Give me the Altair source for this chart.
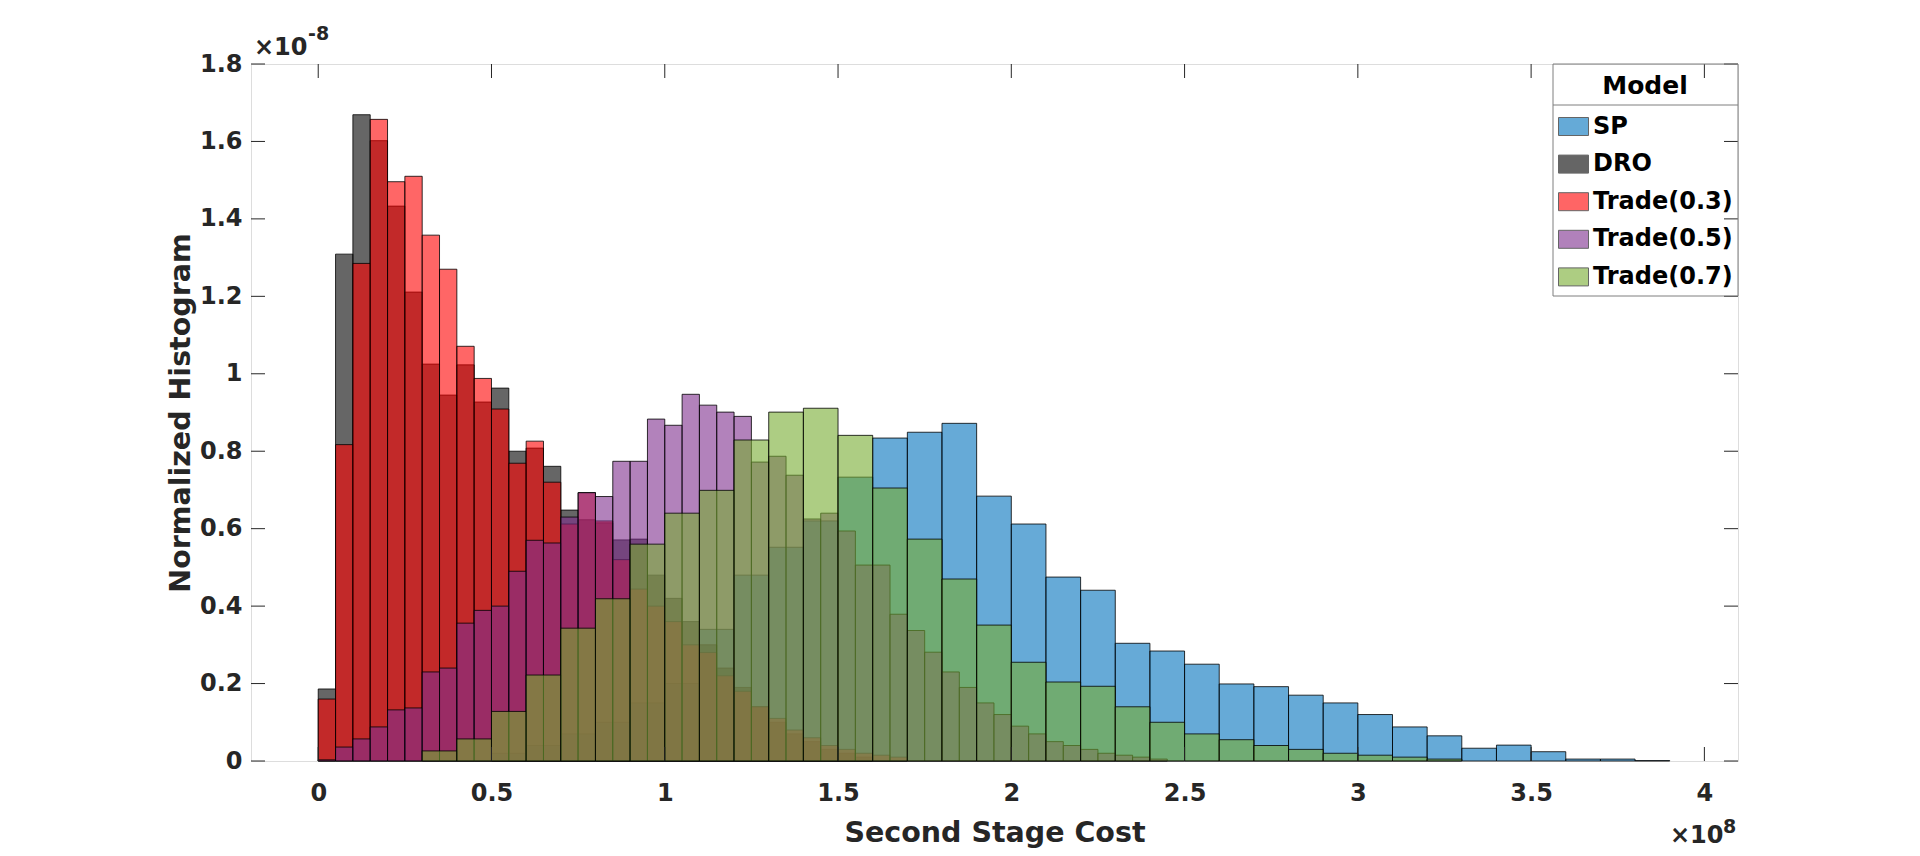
import altair as alt
import pandas as pd

FONT = "DejaVu Sans"
TXT = "#262626"

series_names = ["SP", "DRO", "Trade(0.3)", "Trade(0.5)", "Trade(0.7)"]
series_colors = ["#0072BD", "#000000", "#FF0000", "#7E2F8E", "#77AC30"]
bin_widths = [0.1, 0.05, 0.05, 0.05, 0.1]      # x 1e8
first_edges = [0.5, 0.0, 0.0, 0.0, 0.3]        # x 1e8

# normalized histogram heights (x 1e-8)
sp_values = [0.02, 0.04, 0.07, 0.10, 0.15, 0.20, 0.34, 0.48, 0.552, 0.62,
             0.733, 0.834, 0.849, 0.872, 0.684, 0.612, 0.475, 0.441, 0.304, 0.284,
             0.25, 0.199, 0.192, 0.17, 0.15, 0.12, 0.088, 0.065, 0.033, 0.041,
             0.024, 0.005, 0.005, 0.001]
dro_values = [0.186, 1.309, 1.669, 1.602, 1.433, 1.211, 1.025, 0.945, 1.023, 0.927,
              0.963, 0.80, 0.808, 0.761, 0.648, 0.623, 0.615, 0.571, 0.573, 0.48,
              0.42, 0.36, 0.30, 0.24, 0.19, 0.14, 0.10, 0.07, 0.05, 0.03,
              0.02, 0.01]
trade03_values = [0.16, 0.817, 1.285, 1.657, 1.496, 1.51, 1.358, 1.27, 1.071, 0.988,
                  0.909, 0.769, 0.826, 0.72, 0.612, 0.693, 0.62, 0.52, 0.444, 0.40,
                  0.36, 0.30, 0.28, 0.22, 0.18, 0.14, 0.11, 0.08, 0.06, 0.04,
                  0.03, 0.02, 0.015, 0.01]
trade05_values = [0.003, 0.036, 0.057, 0.088, 0.132, 0.137, 0.23, 0.24, 0.356, 0.389,
                  0.40, 0.49, 0.57, 0.563, 0.63, 0.693, 0.683, 0.774, 0.774, 0.883,
                  0.867, 0.947, 0.919, 0.901, 0.89, 0.772, 0.787, 0.738, 0.625, 0.64,
                  0.594, 0.506, 0.506, 0.379, 0.337, 0.281, 0.23, 0.19, 0.15, 0.12,
                  0.09, 0.07, 0.05, 0.04, 0.03, 0.02, 0.015, 0.01, 0.005]
trade07_values = [0.026, 0.057, 0.128, 0.222, 0.343, 0.419, 0.56, 0.64, 0.699, 0.829,
                  0.901, 0.911, 0.841, 0.705, 0.573, 0.47, 0.351, 0.255, 0.204, 0.193,
                  0.14, 0.10, 0.07, 0.055, 0.04, 0.03, 0.02, 0.015, 0.01, 0.005]

x_ticks = [0, 0.5, 1, 1.5, 2, 2.5, 3, 3.5, 4]
y_ticks = [0, 0.2, 0.4, 0.6, 0.8, 1, 1.2, 1.4, 1.6, 1.8]
x_domain = [-0.194, 4.097]
y_domain = [0, 1.8]

all_values = [sp_values, dro_values, trade03_values, trade05_values, trade07_values]
rows = []
for k, (name, vals) in enumerate(zip(series_names, all_values)):
    for i, v in enumerate(vals):
        x0 = round(first_edges[k] + i * bin_widths[k], 4)
        rows.append({"series": name, "order": k, "x0": x0,
                     "x1": round(x0 + bin_widths[k], 4), "v": v, "base": 0.0})
df = pd.DataFrame(rows)

W, H = 1487, 697
TL = 14
LX, LW, LH = 1302, W - 1302, 232

xs = alt.Scale(domain=x_domain, nice=False, zero=False)
ys = alt.Scale(domain=y_domain, nice=False, zero=False)

x_axis = alt.Axis(
    values=x_ticks, format="~g", title="Second Stage Cost", grid=False,
    ticks=False, tickSize=0, domain=False, labelFlush=False, labelOverlap=False,
    labelFont=FONT, labelFontSize=24, labelFontWeight="bold", labelColor=TXT,
    labelPadding=20, titleFont=FONT, titleFontSize=28.5, titleFontWeight="bold",
    titleColor=TXT, titleY=80.4, titleBaseline="alphabetic")
y_axis = alt.Axis(
    values=y_ticks, format="~g", title="Normalized Histogram", grid=False,
    ticks=False, tickSize=0, domain=False, labelFlush=False, labelOverlap=False,
    labelFont=FONT, labelFontSize=24, labelFontWeight="bold", labelColor=TXT,
    labelPadding=9, titleFont=FONT, titleFontSize=28.5, titleFontWeight="bold",
    titleColor=TXT, titleX=-61.6, titleY=H / 2, titleAngle=270,
    titleAlign="center", titleBaseline="alphabetic")

bars = alt.Chart(df).mark_rect(
    stroke="black", strokeWidth=0.8, fillOpacity=0.6, strokeOpacity=1
).encode(
    x=alt.X("x0:Q", scale=xs, axis=x_axis),
    x2="x1:Q",
    y=alt.Y("v:Q", scale=ys, axis=y_axis),
    y2="base:Q",
    color=alt.Color("series:N", scale=alt.Scale(domain=series_names, range=series_colors),
                    legend=alt.Legend(
                        title="Model", orient="none", legendX=LX, legendY=5,
                        direction="vertical", titleFont=FONT, titleFontSize=25,
                        titleFontWeight="bold", titleColor="black", titleAnchor="middle",
                        titleAlign="center", titlePadding=12, labelFont=FONT,
                        labelFontSize=24, labelFontWeight="bold", labelColor="black",
                        labelOffset=4, labelLimit=0, symbolType="M-1,-0.6H1V0.6H-1Z",
                        symbolSize=900, symbolStrokeColor="black", symbolStrokeWidth=1,
                        symbolOpacity=0.6, padding=5, rowPadding=9.6)),
)

xt = pd.DataFrame({"x0": x_ticks})
yt = pd.DataFrame({"v": y_ticks})
tick_mark = dict(color=TXT, strokeWidth=1)

bottom_ticks = alt.Chart(xt).mark_rule(**tick_mark).encode(
    x=alt.X("x0:Q", scale=xs, axis=x_axis), y=alt.value(H), y2=alt.value(H - TL))
top_ticks = alt.Chart(xt).mark_rule(**tick_mark).encode(
    x=alt.X("x0:Q", scale=xs, axis=x_axis), y=alt.value(0), y2=alt.value(TL))
left_ticks = alt.Chart(yt).mark_rule(**tick_mark).encode(
    y=alt.Y("v:Q", scale=ys, axis=y_axis), x=alt.value(0), x2=alt.value(TL))
right_ticks = alt.Chart(yt).mark_rule(**tick_mark).encode(
    y=alt.Y("v:Q", scale=ys, axis=y_axis), x=alt.value(W), x2=alt.value(W - TL))

one = pd.DataFrame({"a": [0]})
legend_box = alt.Chart(one).mark_rect(
    fill="white", fillOpacity=0, stroke="#7f7f7f", strokeWidth=1).encode(
    x=alt.value(LX), x2=alt.value(W), y=alt.value(0), y2=alt.value(LH))
sep = alt.Chart(one).mark_rule(color="#7f7f7f", strokeWidth=1).encode(
    x=alt.value(LX), x2=alt.value(W), y=alt.value(41))


def label(text, x, y, size):
    return alt.Chart(one).mark_text(
        text=text, font=FONT, fontSize=size, fontWeight="bold", color=TXT,
        align="left", baseline="alphabetic").encode(x=alt.value(x), y=alt.value(y))


exp_top = label("×10", 3, -9, 24) + label("-8", 57, -24, 19)
exp_bot = label("×10", 1419, 779, 24) + label("8", 1472, 769, 19)

chart = alt.layer(
    bars, bottom_ticks, top_ticks, left_ticks, right_ticks, legend_box, sep,
    exp_top, exp_bot
).properties(
    width=W, height=H,
    autosize=alt.AutoSizeParams(type="none"),
    padding={"left": 243, "top": 56, "right": 150, "bottom": 87},
).configure_view(stroke="#7f7f7f", strokeWidth=1).configure(background="white")

chart.save("out.html", embed_options={"renderer": "svg", "actions": False})
